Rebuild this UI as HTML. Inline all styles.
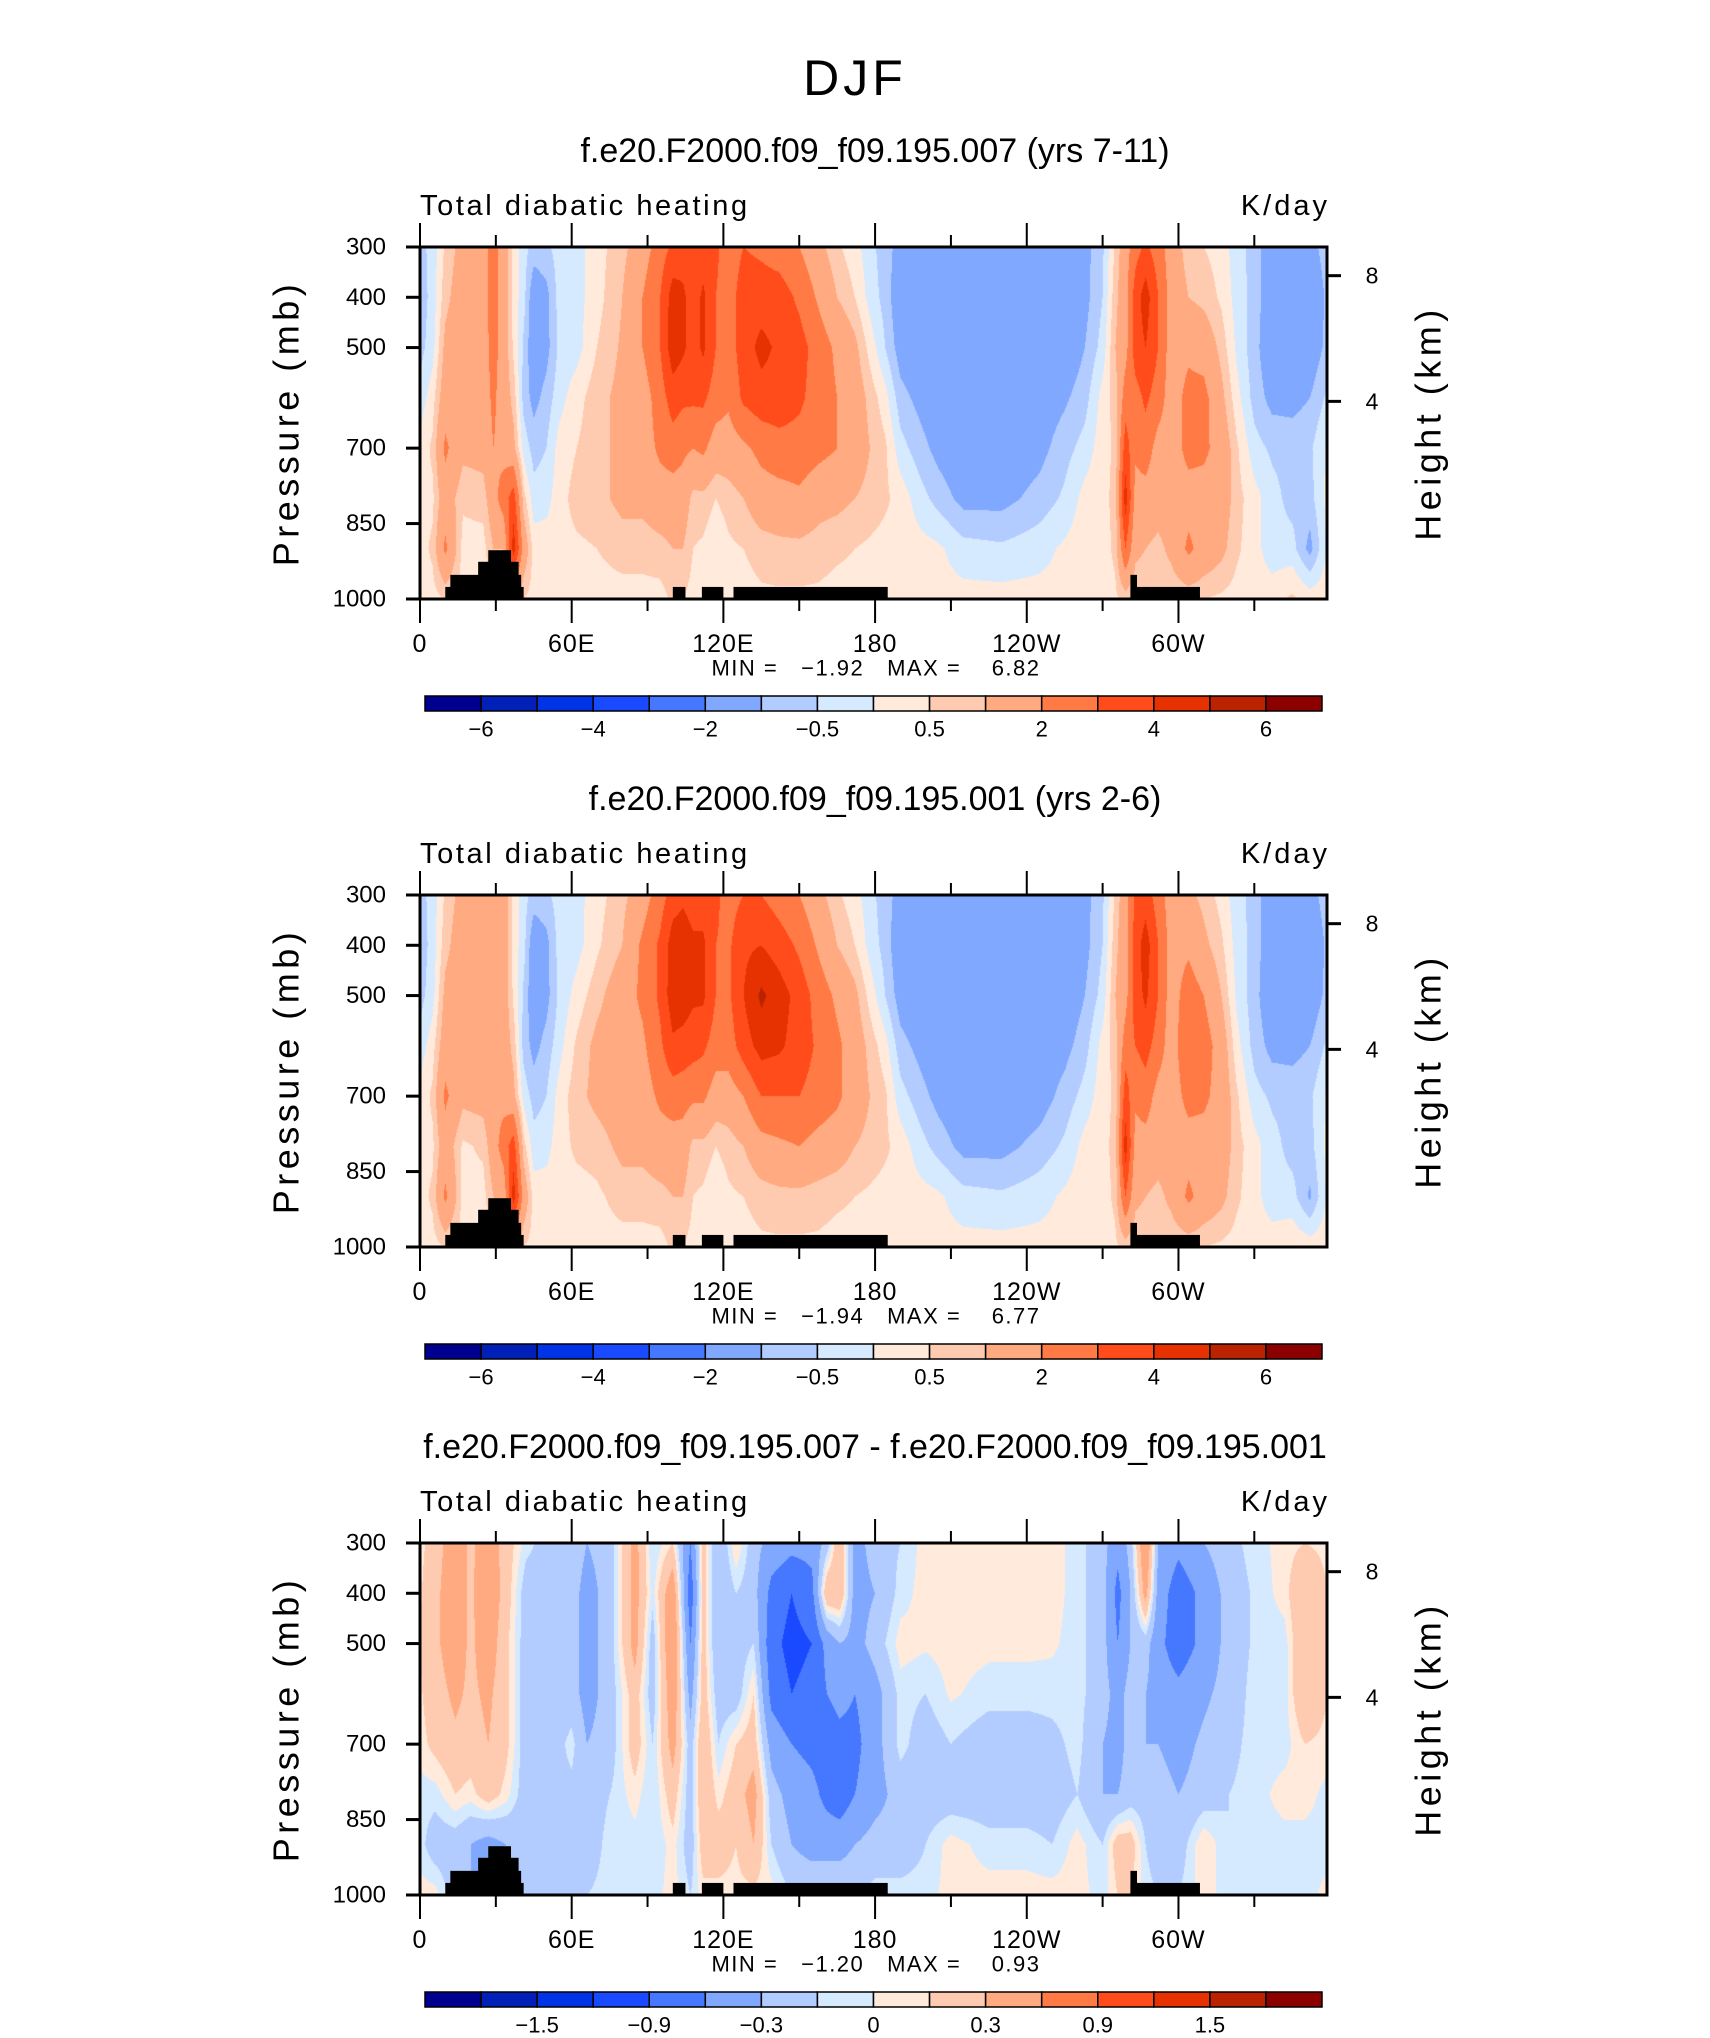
<!DOCTYPE html>
<html><head><meta charset="utf-8">
<style>
html,body{margin:0;padding:0;background:#fff;}
#root{position:relative;width:1710px;height:2038px;overflow:hidden;background:#fff;font-family:"Liberation Sans",sans-serif;}
canvas{position:absolute;}
#ov{position:absolute;left:0;top:0;}
</style></head>
<body>
<div id="root">
<svg id="ov" width="1710" height="2038"></svg>
</div>
<script>
// ---------- shared axis data ----------
const pLevels = [300,400,500,600,700,800,900,1000];
const pTickLabels = [300,400,500,700,850,1000];
const lonTickValues = [0,60,120,180,240,300];
const lonTickLabels = ["0","60E","120E","180","120W","60W"];
const heightTickValues = [8,4];
const heightTickPressure = [357,607];
const titles = ["f.e20.F2000.f09_f09.195.007 (yrs 7-11)","f.e20.F2000.f09_f09.195.001 (yrs 2-6)","f.e20.F2000.f09_f09.195.007 - f.e20.F2000.f09_f09.195.001"];
const minVals = ["\u22121.92","\u22121.94","\u22121.20"];
const maxVals = ["6.82","6.77","0.93"];
const boundsAbs = [-6,-5,-4,-3,-2,-1,-0.5,0,0.5,1,2,3,4,5,6];
const boundsDiff = [-1.8,-1.5,-1.2,-0.9,-0.6,-0.3,-0.1,0,0.1,0.3,0.6,0.9,1.2,1.5,1.8];
const cbLabelsAbs = ["\u22126","\u22124","\u22122","\u22120.5","0.5","2","4","6"];
const cbLabelsDiff = ["\u22121.5","\u22120.9","\u22120.3","0","0.3","0.9","1.5"];
const palette = ["#000090","#0020b8","#0032e6","#1a4aff","#4678ff","#80a8ff","#b3ccff","#d6eaff","#ffeadb","#ffcbb0","#ffaa80","#ff7a45","#ff4c1a","#e63200","#bb2200","#8c0000"];
const terrainLon0 = [10,12,23,27,100,111.5,124,281,281];
const terrainLon1 = [41,40,39,36,105,120,185,283.6,308.5];
const terrainTop = [976,952,926,903,976,976,976,952,976];

const lonsP1 = [0,5,10,17,25,29,33,37,41,45,50,55,62,70,80,88,95,100,104,108,112,117,122,128,135,142,150,158,165,172,178,184,190,198,205,215,230,245,255,263,270,275,279,283,287,292,297,304,310,317,323,330,337,345,352,360];
const fieldP1 = [
[-0.7,-0.8,-0.7,-0.3,0.2,0.3,0.3,0.3],[-0.3,-0.3,-0.2,0.3,0.6,0.4,0.6,0.3],[0.6,0.8,1.2,1.5,2.2,1.5,2.2,0.5],
[1.3,1.5,1.5,1.5,1.2,0.6,0.3,0.3],[1.6,1.6,1.5,1.5,1.3,0.7,0.3,0.3],[2.5,2.5,2.4,2.2,2,1.6,1,0.5],
[1.5,1.5,1.5,1.5,1.6,2.5,1,0.5],[0.3,0.3,0.4,0.8,1.2,3.5,4.5,0.8],[-0.3,-0.3,-0.6,-0.7,-0.2,0.7,1.6,0.5],
[-0.7,-1.5,-1.5,-1.2,-0.7,-0.3,0.3,0.3],[-0.6,-1.2,-1.2,-0.8,-0.5,-0.2,0.3,0.3],[-0.3,-0.3,-0.4,-0.2,0.2,0.3,0.3,0.3],
[-0.2,-0.2,-0.2,0.3,0.5,0.7,0.4,0.3],[0.3,0.3,0.5,0.8,0.8,0.8,0.5,0.3],[0.8,1,1.1,1.2,1.2,1.2,0.7,0.3],
[1.5,2,2,1.5,1.5,1.2,0.7,0.3],[2.5,3,3,2.5,2.2,1.5,0.8,0.3],[3.2,4.5,4.6,3.5,2.5,1.5,1,0.6],
[3.5,4.2,4.2,3.2,2.2,1.5,1.0,0.5],[3.2,3.5,3.5,3.2,2.0,0.8,0.5,0.3],[3.5,4.2,4.2,3.2,2.2,0.8,0.4,0.3],
[3.2,3,3,2.5,1.5,0.5,0.1,0.3],[2.5,2.5,2.5,2.2,1.5,0.7,0.4,0.3],[3.0,3.5,3.5,3.2,1.8,1.0,0.5,0.3],
[2.8,3.5,4.3,3.6,2.3,1.5,0.7,0.4],[2.5,3.5,3.8,3.6,2.6,1.6,0.8,0.4],[2,2.8,3.4,3.2,2.6,1.8,0.8,0.4],
[1.2,1.8,2.5,2.5,2.3,1.3,0.7,0.4],[0.6,1,1.8,2,2,1.2,0.6,0.3],[0.2,0.5,1.2,1.5,1.5,1,0.5,0.3],
[-0.3,-0.2,0.3,0.8,1,0.8,0.4,0.3],[-0.8,-0.7,-0.5,0.2,0.6,0.6,0.3,0.3],[-1.2,-1.5,-1.3,-0.8,-0.3,0.3,0.3,0.2],
[-1.5,-1.5,-1.5,-1.2,-0.8,-0.3,0.2,0.2],[-1.5,-1.5,-1.5,-1.5,-1.2,-0.7,0.1,0.2],[-1.5,-1.5,-1.5,-1.5,-1.5,-1.2,-0.3,0.2],
[-1.5,-1.5,-1.5,-1.5,-1.5,-1.2,-0.4,0.2],[-1.5,-1.5,-1.5,-1.4,-1.2,-0.8,-0.2,0.2],[-1.5,-1.5,-1.5,-1.1,-0.7,-0.4,0.1,0.2],
[-1.2,-1.2,-1,-0.7,-0.3,0.2,0.3,0.2],[-0.6,-0.5,-0.3,0.2,0.3,0.4,0.3,0.3],[0.6,0.8,1.0,0.7,0.6,0.6,0.6,0.4],
[1.5,1.6,1.6,2.5,3.5,4.5,3,0.6],[2.6,3.5,3.5,2.6,2.2,1.6,1.2,0.5],[3.2,4.5,4,3.2,2.5,1.6,1.0,0.5],
[2.5,3,3,2.5,1.6,1.4,0.8,0.5],[1.5,1.6,1.5,1.5,1.5,1.5,1.2,0.5],[0.7,1,1.8,2.3,2.3,1.6,2.2,0.6],
[0.5,0.8,1.6,2.3,2.2,1.6,1.6,0.5],[0.3,0.4,0.8,1.2,1.6,1.5,1.2,0.4],[-0.3,-0.2,-0.1,0.2,0.6,0.7,0.6,0.3],
[-0.7,-0.7,-0.8,-0.7,-0.3,0.2,0.2,0.3],[-1.5,-1.5,-1.5,-1.2,-0.6,-0.3,-0.3,0.3],[-1.5,-1.5,-1.5,-1.2,-0.7,-0.7,-0.3,0.6],
[-1.2,-1.5,-1.5,-1,-0.6,-0.7,-1.2,0.3],[-0.7,-0.8,-0.7,-0.3,0.2,0.3,0.3,0.3]];

const lonsP2 = lonsP1.slice();
const fieldP2 = [
[-0.7,-0.8,-0.7,-0.3,0.2,0.3,0.3,0.3],[-0.3,-0.3,-0.2,0.3,0.6,0.4,0.6,0.3],[0.6,0.8,1.2,1.5,2.2,1.5,2.2,0.5],
[1.3,1.5,1.5,1.5,1.2,0.4,0.3,0.3],[1.6,1.6,1.5,1.5,1.3,0.6,0.3,0.3],[1.8,1.8,1.8,1.8,1.8,1.5,1,0.5],
[1.5,1.5,1.5,1.5,1.6,2.5,1.2,0.5],[0.3,0.3,0.4,0.8,1.2,3.5,4.5,0.8],[-0.3,-0.3,-0.6,-0.7,-0.2,0.7,1.6,0.5],
[-0.7,-1.5,-1.5,-1.2,-0.7,-0.3,0.3,0.3],[-0.6,-1.2,-1.2,-0.8,-0.5,-0.2,0.3,0.3],[-0.3,-0.3,-0.4,-0.2,0.2,0.3,0.3,0.3],
[-0.2,-0.2,0.2,0.6,0.8,0.6,0.3,0.3],[0.3,0.4,0.8,1.2,1.2,0.7,0.4,0.3],[0.8,1,1.5,1.5,1.5,1.2,0.7,0.3],
[1.5,2.2,2.2,1.8,1.5,1.2,0.7,0.3],[2.5,3.2,3.2,2.8,2.2,1.5,0.8,0.3],[3.5,4.5,4.6,3.8,2.5,1.5,1,0.6],
[3.8,4.6,4.6,3.6,2.4,1.5,1.0,0.5],[3.5,4.2,4.2,3.4,2.2,0.8,0.5,0.3],[3.5,4.2,4.2,3.2,2.2,0.8,0.4,0.3],
[3.2,3,3,2.5,1.5,0.5,0.1,0.3],[2.6,2.8,2.8,2.5,1.5,0.7,0.4,0.3],[3.0,3.8,4,3.5,2.0,1.0,0.5,0.3],
[3.0,4,5.2,4.4,3.0,1.6,0.7,0.4],[2.5,3.5,4.5,4.2,3.0,1.8,0.8,0.4],[2,2.8,3.6,3.5,3.0,2.0,0.8,0.4],
[1.2,1.8,2.5,2.8,2.6,1.6,0.7,0.4],[0.6,1,1.8,2.2,2.2,1.4,0.6,0.3],[0.2,0.5,1.2,1.5,1.5,1,0.5,0.3],
[-0.3,-0.2,0.3,0.8,1,0.8,0.4,0.3],[-0.8,-0.7,-0.5,0.2,0.6,0.6,0.3,0.3],[-1.2,-1.5,-1.3,-0.8,-0.3,0.3,0.3,0.2],
[-1.5,-1.5,-1.5,-1.2,-0.8,-0.3,0.2,0.2],[-1.5,-1.5,-1.5,-1.5,-1.2,-0.7,0.1,0.2],[-1.5,-1.5,-1.5,-1.5,-1.5,-1.2,-0.3,0.2],
[-1.5,-1.5,-1.5,-1.5,-1.5,-1.2,-0.4,0.2],[-1.5,-1.5,-1.5,-1.4,-1.3,-0.8,-0.2,0.2],[-1.5,-1.5,-1.5,-1.2,-0.8,-0.4,0.1,0.2],
[-1.2,-1.2,-1,-0.7,-0.3,0.2,0.3,0.2],[-0.6,-0.5,-0.3,0.2,0.3,0.4,0.3,0.3],[0.6,0.8,1.0,0.7,0.6,0.6,0.6,0.4],
[1.5,1.6,1.6,2.5,3.5,4.5,3,0.6],[3.2,3.5,3.5,3.0,2.2,1.6,1.2,0.5],[3.5,4.5,4.2,3.4,2.5,1.6,1.0,0.5],
[2.5,3,3,2.5,1.6,1.4,0.8,0.5],[1.5,1.6,1.5,1.5,1.5,1.5,1.2,0.5],[1.2,1.8,2.5,2.8,2.3,1.6,2.2,0.6],
[0.8,1.2,2,2.5,2.2,1.6,1.6,0.5],[0.3,0.6,1,1.5,1.6,1.5,1.2,0.4],[-0.3,-0.2,-0.1,0.2,0.6,0.7,0.6,0.3],
[-0.7,-0.7,-0.8,-0.7,-0.3,0.2,0.2,0.3],[-1.5,-1.5,-1.5,-1.2,-0.6,-0.3,-0.3,0.3],[-1.5,-1.5,-1.5,-1.2,-0.7,-0.7,-0.3,0.4],
[-1.2,-1.5,-1.5,-1,-0.6,-0.7,-1.1,0.3],[-0.7,-0.8,-0.7,-0.3,0.2,0.3,0.3,0.3]];

const lonsP3 = [0,6,14,20,27,34,42,52,60,66,75,85,92,100,107,112,118,125,132,139,147,155,161,166,172,180,190,200,210,225,240,250,260,270,276,281,287,292,300,310,320,330,342,350,360];
const fieldP3 = [
[0.05,0.08,0.1,0.08,0.05,-0.05,-0.05,0.05],[0.2,0.25,0.25,0.2,0.15,-0.05,-0.2,0.05],[0.45,0.45,0.45,0.35,0.25,0.1,-0.2,-0.2],
[0.25,0.25,0.25,0.25,0.2,0.05,-0.3,-0.3],[0.45,0.5,0.45,0.35,0.3,0.2,-0.4,-0.4],[0.2,0.2,0.15,0.15,0.15,0.05,-0.3,-0.2],
[-0.05,-0.2,-0.2,-0.2,-0.2,-0.2,-0.2,-0.2],[-0.2,-0.2,-0.3,-0.2,-0.2,-0.15,-0.15,-0.1],[-0.15,-0.2,-0.2,-0.2,-0.05,-0.15,-0.2,-0.1],
[-0.3,-0.4,-0.4,-0.4,-0.3,-0.2,-0.2,-0.1],[-0.2,-0.2,-0.2,-0.2,-0.2,-0.1,-0.05,-0.05],[0.4,0.4,0.4,0.2,0.2,0.05,-0.05,-0.05],
[-0.1,-0.05,-0.2,-0.2,-0.1,-0.1,-0.1,-0.05],[0.1,0.5,0.6,0.5,0.4,0.2,0.05,0.05],[-0.6,-0.8,-0.6,-0.4,-0.2,-0.2,-0.2,-0.1],
[0.2,0.2,0.2,0.2,0.3,0.3,0.2,0.05],[-0.3,-0.3,-0.3,-0.2,-0.1,0.05,0.2,0.05],[0.1,-0.1,-0.2,-0.2,0.1,0.2,0.1,0.05],
[-0.2,-0.2,-0.1,0.1,0.2,0.4,0.3,0.05],[-0.4,-0.7,-0.8,-0.7,-0.4,-0.2,-0.1,0.05],[-0.5,-0.9,-1.0,-0.9,-0.6,-0.4,-0.3,-0.1],
[-0.5,-0.7,-0.9,-0.8,-0.7,-0.5,-0.4,-0.1],[-0.2,0.3,-0.5,-0.6,-0.8,-0.7,-0.4,-0.1],[0.3,0.3,-0.3,-0.5,-0.7,-0.8,-0.4,-0.1],
[-0.4,-0.4,-0.4,-0.6,-0.7,-0.6,-0.3,-0.1],[-0.2,-0.3,-0.2,-0.4,-0.4,-0.4,-0.2,-0.05],[-0.1,-0.05,0.05,-0.05,-0.05,-0.2,-0.2,-0.05],
[0.05,0.05,0.02,-0.1,-0.2,-0.2,-0.1,-0.05],[0.05,0.05,0.05,0.02,-0.1,-0.2,0.05,0.05],[0.05,0.05,0.03,-0.05,-0.2,-0.2,-0.05,0.05],
[0.05,0.05,0.03,-0.05,-0.2,-0.2,-0.05,0.05],[0.05,0.05,0.02,-0.05,-0.15,-0.2,-0.1,0.05],[-0.05,-0.05,-0.05,-0.05,-0.05,-0.1,0.05,0.05],
[-0.2,-0.2,-0.2,-0.2,-0.3,-0.3,-0.1,-0.05],[-0.5,-0.7,-0.6,-0.4,-0.4,-0.3,0.2,0.1],[-0.2,-0.3,-0.3,-0.2,-0.2,-0.2,0.2,0.1],
[0.6,0.4,-0.2,-0.3,-0.3,-0.2,-0.1,-0.05],[-0.3,-0.4,-0.5,-0.4,-0.3,-0.2,-0.2,-0.1],[-0.5,-0.8,-0.8,-0.5,-0.4,-0.3,-0.2,-0.1],
[-0.3,-0.5,-0.5,-0.35,-0.25,-0.2,0.1,0.05],[-0.15,-0.2,-0.2,-0.2,-0.15,-0.1,-0.1,-0.05],[-0.05,-0.08,-0.08,-0.05,-0.05,-0.05,-0.05,-0.05],
[0.05,0.05,-0.05,-0.05,-0.05,0.05,-0.05,-0.05],[0.1,0.3,0.3,0.3,0.1,0.05,-0.05,-0.05],[0.05,0.08,0.1,0.08,0.05,-0.05,-0.05,0.05]];

const PL = 420, PW = 907, PH = 352, LONMAX = 358.75;
const panelTops = [247, 895, 1543];
const NS = "http://www.w3.org/2000/svg";
const svg = document.getElementById('ov');
const root = document.getElementById('root');
function xLon(lon){ return PL + lon / LONMAX * PW; }
function yP(T, p){ return T + (p - 300) / 700 * PH; }
function mk(tag, attrs){ const e = document.createElementNS(NS, tag); for (const k in attrs) e.setAttribute(k, attrs[k]); svg.appendChild(e); return e; }
function txt(x, y, s, size, anchor){
  const t = mk('text', {x:x, y:y, 'font-size':size, 'text-anchor':anchor||'middle', 'dominant-baseline':'central', fill:'#000', 'font-family':'"Liberation Sans", sans-serif'});
  t.textContent = s; return t;
}
function colorIdx(v, bounds){ let i = 0; while (i < bounds.length && v >= bounds[i]) i++; return i; }
function hex(c){ return [parseInt(c.substr(1,2),16),parseInt(c.substr(3,2),16),parseInt(c.substr(5,2),16)]; }
const palRGB = palette.map(hex);

function sample(lons, field, lon, p){
  let j = 0; while (j < lons.length - 2 && lon > lons[j+1]) j++;
  const fx = Math.max(0, Math.min(1, (lon - lons[j]) / (lons[j+1] - lons[j])));
  let k = Math.min(6, Math.floor((p - 300) / 100)); const fy = (p - pLevels[k]) / 100;
  const a = field[j][k], b = field[j+1][k], c = field[j][k+1], d = field[j+1][k+1];
  return (a*(1-fx)+b*fx)*(1-fy) + (c*(1-fx)+d*fx)*fy;
}

const dj = txt(855, 78, 'DJF', 50);
dj.setAttribute('letter-spacing', '4');



function buildPanel(n, lons, field, bounds, cbLabels){
  const T = panelTops[n];
  const cv = document.createElement('canvas');
  cv.width = PW; cv.height = PH;
  cv.style.left = PL + 'px'; cv.style.top = T + 'px';
  
  
  root.insertBefore(cv, svg);
  const ctx = cv.getContext('2d');
  const img = ctx.createImageData(PW, PH);
  for (let py = 0; py < PH; py++){
    const p = 300 + (py + 0.5) / PH * 700;
    for (let px = 0; px < PW; px++){
      const lon = (px + 0.5) / PW * LONMAX;
      const v = sample(lons, field, lon, p);
      const c = palRGB[colorIdx(v, bounds)];
      const o = (py * PW + px) * 4;
      img.data[o] = c[0]; img.data[o+1] = c[1]; img.data[o+2] = c[2]; img.data[o+3] = 255;
    }
  }
  ctx.putImageData(img, 0, 0);
  for (let i = 0; i < terrainLon0.length; i++){
    const r = mk('rect', {x:xLon(terrainLon0[i]), y:yP(T, terrainTop[i]), width:xLon(terrainLon1[i]) - xLon(terrainLon0[i]), height:yP(T,1000) - yP(T, terrainTop[i]), fill:'#000'});
    
    
  }
  const fr = mk('rect', {x:PL, y:T, width:PW, height:PH, fill:'none', stroke:'#000', 'stroke-width':3});
  
  
  const tt = txt(875, T - 96, titles[n], 34);
  
  
  const lt = txt(PL, T - 41, 'Total diabatic heating', 29, 'start');
  lt.setAttribute('letter-spacing', '2.6');
  
  
  const ut = txt(PL + PW + 3, T - 41, 'K/day', 29, 'end');
  ut.setAttribute('letter-spacing', '3');
  
  
  for (const p of pTickLabels){
    const y = yP(T, p);
    const tk = mk('line', {x1:PL - 14, y1:y, x2:PL, y2:y, stroke:'#000', 'stroke-width':3});
    
    
    const tl = txt(386, y, String(p), 24, 'end');
    
    
  }
  const yt = txt(0, 0, 'Pressure (mb)', 36);
  yt.setAttribute('letter-spacing', '4.5');
  yt.setAttribute('transform', 'translate(286,' + (T + 176) + ') rotate(-90)');
  
  
  for (let i = 0; i < heightTickValues.length; i++){
    const y = yP(T, heightTickPressure[i]);
    const tk = mk('line', {x1:PL + PW, y1:y, x2:PL + PW + 14, y2:y, stroke:'#000', 'stroke-width':3});
    
    
    const tl = txt(1372, y, String(heightTickValues[i]), 23);
    
    
  }
  const rt = txt(0, 0, 'Height (km)', 36);
  rt.setAttribute('letter-spacing', '4.5');
  rt.setAttribute('transform', 'translate(1428,' + (T + 176) + ') rotate(-90)');
  
  
  for (let lon = 0; lon <= 330; lon += 30){
    const x = xLon(lon); const major = lon % 60 === 0;
    const t1 = mk('line', {x1:x, y1:T, x2:x, y2:T - (major ? 24 : 12), stroke:'#000', 'stroke-width':2});
    
    
    const t2 = mk('line', {x1:x, y1:T + PH, x2:x, y2:T + PH + (major ? 24 : 12), stroke:'#000', 'stroke-width':2});
    
    
  }
  for (let i = 0; i < lonTickValues.length; i++){
    const tl = txt(xLon(lonTickValues[i]), T + 397, lonTickLabels[i], 25);
    tl.setAttribute('letter-spacing', '1');
    
    
  }
  const mm = txt(876, T + 421, 'MIN =   ' + minVals[n] + '   MAX =    ' + maxVals[n], 22);
  mm.setAttribute('xml:space', 'preserve');
  mm.setAttribute('letter-spacing', '1.5');
  mm.style.whiteSpace = 'pre';
  
  
  const cx0 = 425, cw = (1322 - 425) / 16, cy = T + 449, ch = 15;
  for (let i = 0; i < 16; i++){
    const r = mk('rect', {x:cx0 + i*cw, y:cy, width:cw, height:ch, fill:palette[i], stroke:'#000', 'stroke-width':1.5});
    
    
  }
  const step = 2, start = cbLabels.length === 8 ? 1 : 2;
  for (let i = 0; i < cbLabels.length; i++){
    const b = start + i*step;
    const tl = txt(cx0 + b*cw, T + 482, cbLabels[i], 22);
    
    
  }
}
buildPanel(0, lonsP1, fieldP1, boundsAbs, cbLabelsAbs);
buildPanel(1, lonsP2, fieldP2, boundsAbs, cbLabelsAbs);
buildPanel(2, lonsP3, fieldP3, boundsDiff, cbLabelsDiff);
</script>
</body></html>
